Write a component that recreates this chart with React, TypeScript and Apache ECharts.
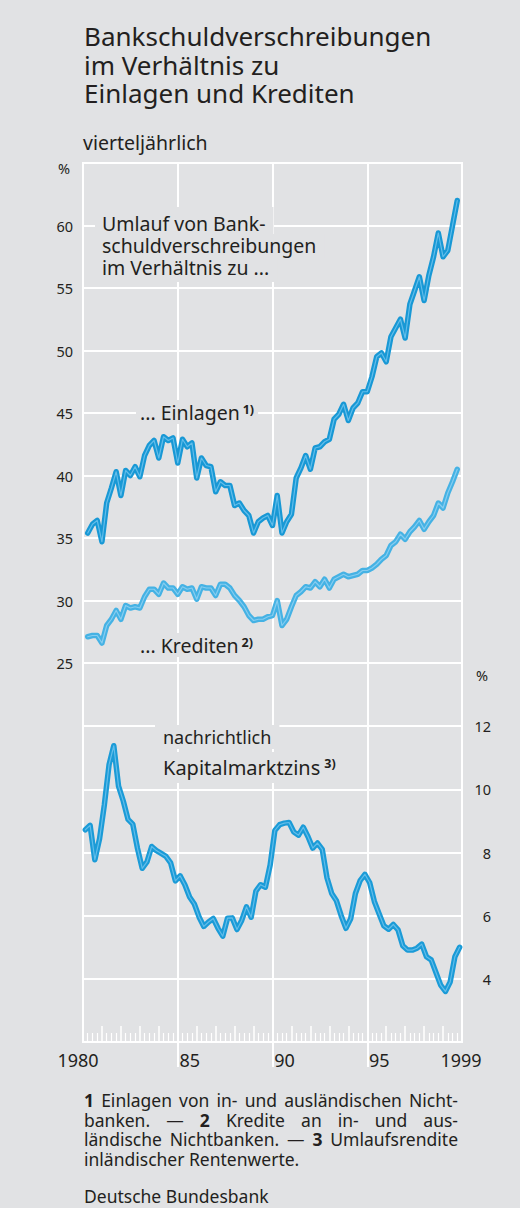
import React, { useEffect, useRef } from 'react';
import * as echarts from 'echarts';

const FONT = '"Noto Sans", "Open Sans", sans-serif';
const INK = '#231f20';
const BG = '#e1e2e4';
const GRIDC = '#ffffff';

// Tick labels
const xLabelValues = [1980, 1985, 1990, 1995, 2000];
const xLabelTexts = ['1980', '85', '90', '95', '1999'];
const xTickValues = [1985, 1990, 1995];

// Quarterly ratios 1980 Q1 .. 1999 Q3 (%)
const einlagen = [
  35.4, 36.1, 36.4, 34.7,
  37.8, 39.0, 40.3, 38.4,
  40.4, 40.0, 40.7, 39.9,
  41.6, 42.4, 42.8, 41.4,
  43.1, 42.8, 43.0, 41.0,
  42.9, 42.3, 42.6, 39.8,
  41.4, 40.8, 40.7, 38.7,
  39.5, 39.2, 39.2, 37.6,
  37.8, 37.2, 36.8, 35.4,
  36.3, 36.6, 36.8, 36.0,
  38.4, 35.4, 36.3, 36.9,
  39.8, 40.6, 41.6, 40.5,
  42.2, 42.3, 42.7, 42.9,
  44.5, 44.9, 45.7, 44.4,
  45.4, 45.8, 46.7, 46.7,
  47.9, 49.5, 49.8, 49.1,
  51.1, 51.8, 52.5, 51.0,
  53.7, 54.8, 55.9, 54.0,
  56.0, 57.5, 59.4, 57.5,
  58.0, 60.0, 62.0,
];

const kredite = [
  27.1, 27.2, 27.2, 26.6,
  28.0, 28.5, 29.2, 28.5,
  29.6, 29.4, 29.5, 29.4,
  30.3, 30.9, 30.9, 30.5,
  31.4, 31.0, 31.0, 30.5,
  31.1, 30.9, 31.0, 30.1,
  31.1, 31.0, 31.0, 30.4,
  31.3, 31.3, 31.0, 30.4,
  30.0, 29.5, 28.8, 28.4,
  28.5, 28.5, 28.7, 28.8,
  30.0, 28.0, 28.5, 29.5,
  30.4, 30.7, 31.1, 31.0,
  31.5, 31.1, 31.7, 31.0,
  31.7, 31.9, 32.1, 31.9,
  32.0, 32.1, 32.4, 32.4,
  32.6, 32.9, 33.3, 33.6,
  34.4, 34.7, 35.3, 34.9,
  35.5, 35.9, 36.4, 35.7,
  36.3, 36.8, 37.8, 37.4,
  38.6, 39.5, 40.5,
];

// Kapitalmarktzins, quarterly 1980 Q1 .. 1999 Q4 (%)
const zins = [
  8.72, 8.86, 7.77, 8.44, 9.5, 10.78, 11.38, 10.1, 9.63, 9.05,
  8.9, 8.13, 7.5, 7.7, 8.19, 8.06, 7.97, 7.88, 7.67, 7.1,
  7.26, 6.98, 6.59, 6.37, 5.96, 5.66, 5.8, 5.91, 5.6, 5.35,
  5.92, 5.93, 5.56, 5.85, 6.28, 5.95, 6.78, 6.98, 6.9, 7.6,
  8.7, 8.88, 8.93, 8.95, 8.65, 8.55, 8.8, 8.5, 8.14, 8.3,
  8.1, 7.2, 6.7, 6.47, 6.0, 5.6, 5.9, 6.7, 7.11, 7.31,
  7.05, 6.45, 6.06, 5.68, 5.57, 5.72, 5.55, 5.05, 4.91, 4.91,
  4.97, 5.1, 4.7, 4.6, 4.2, 3.8, 3.6, 3.9, 4.7, 5.0,
];

const titleLines = ['Bankschuldverschreibungen', 'im Verhältnis zu', 'Einlagen und Krediten'];
const subtitle = 'vierteljährlich';
const umlaufLines = ['Umlauf von Bank-', 'schuldverschreibungen', 'im Verhältnis zu ...'];
const footnotes = [
  '1 Einlagen von in- und ausländischen Nicht-',
  'banken. — 2 Kredite an in- und aus-',
  'ländische Nichtbanken. — 3 Umlaufsrendite',
  'inländischer Rentenwerte.',
];
const footJustify = [true, true, true, false];
const source = 'Deutsche Bundesbank';

let ctx: CanvasRenderingContext2D | null = null;
function measure(text: string, size: number, weight = 'normal') {
  if (!ctx) ctx = document.createElement('canvas').getContext('2d');
  ctx!.font = `${weight} ${size}px "Noto Sans"`;
  return ctx!.measureText(text).width;
}

function txt(text: string, x: number, y: number, size: number, extra: any = {}) {
  return {
    type: 'text',
    x,
    y,
    z: 20,
    silent: true,
    style: {
      text,
      fontSize: size,
      lineHeight: Math.round(size),
      fontFamily: FONT,
      fontWeight: extra.weight || 'normal',
      fill: INK,
      align: 'left',
      verticalAlign: 'middle',
    },
  };
}

function box(x: number, y: number, w: number, h: number) {
  return { type: 'rect', z: 15, silent: true, shape: { x, y, width: w, height: h }, style: { fill: BG } };
}

// one text per footnote line, justified with rich tokens of computed widths
function justifiedLine(line: string, x0: number, x1: number, y: number, fs: number, justify: boolean) {
  const words = line.split(' ');
  const isBold = (w: string) => /^[0-9]$/.test(w);
  const widths = words.map((w) => measure(w, fs, isBold(w) ? 'bold' : 'normal'));
  const total = widths.reduce((a, b) => a + b, 0);
  const space = measure(' ', fs);
  const gap = justify && words.length > 1 ? (x1 - x0 - total) / (words.length - 1) : space;
  const rich: any = {};
  let text = '';
  words.forEach((w, j) => {
    const key = 'w' + j;
    rich[key] = {
      fontSize: fs,
      lineHeight: Math.round(fs),
      fontFamily: FONT,
      fontWeight: isBold(w) ? 'bold' : 'normal',
      fill: INK,
      ...(j < words.length - 1 ? { width: widths[j] + gap } : {}),
    };
    text += `{${key}|${w}}`;
  });
  return {
    type: 'text',
    x: x0,
    y,
    z: 20,
    silent: true,
    style: {
      text,
      rich,
      fontSize: fs,
      lineHeight: Math.round(fs),
      fontFamily: FONT,
      fill: INK,
      align: 'left',
      verticalAlign: 'middle',
    },
  };
}

function buildGraphics() {
  const g: any[] = [];
  // Title
  const titleY = [36, 64.5, 93];
  titleLines.forEach((t, i) => g.push(txt(t, 84, titleY[i], 26)));
  g.push(txt(subtitle, 83, 142, 19.5));

  // Umlauf annotation with backgrounds per line
  const uy = [223, 245.5, 267.5];
  const ub = [[207, 236], [234, 258], [256, 282]];
  umlaufLines.forEach((t, i) => {
    const w = measure(t, 19.5);
    g.push(box(95, ub[i][0], w + 15, ub[i][1] - ub[i][0]));
    g.push(txt(t, 102, uy[i], 19.5));
  });

  // Einlagen / Krediten labels
  const addSup = (main: string, sup: string, x: number, y: number, size: number) => {
    const w = measure(main, size);
    const ws = measure(sup, 12.5, 'bold');
    g.push(box(x - 4, y - 12, w + ws + 11, 24));
    g.push(txt(main, x, y, size));
    g.push(txt(sup, x + w + 3, y - 3, 12.5, { weight: 'bold' }));
  };
  addSup('... Einlagen', '1)', 140, 412, 19.5);
  addSup('... Krediten', '2)', 140, 645, 19.5);

  // nachrichtlich Kapitalmarktzins
  const wn = measure('nachrichtlich', 18);
  g.push(box(155, 725, wn + 16, 24));
  g.push(txt('nachrichtlich', 163, 737, 18));
  const wk = measure('Kapitalmarktzins', 20);
  const wks = measure('3)', 12.5, 'bold');
  g.push(box(155, 752, wk + wks + 20, 31));
  g.push(txt('Kapitalmarktzins', 163, 767, 20));
  g.push(txt('3)', 163 + wk + 4, 763, 12.5, { weight: 'bold' }));

  // Footnotes (justified)
  const fy = [1100, 1119.5, 1139, 1158.5];
  footnotes.forEach((line, i) => g.push(justifiedLine(line, 84, 458, fy[i], 17.5, footJustify[i])));
  g.push(txt(source, 84, 1196, 17.5));
  return g;
}

export default function App() {
  const ref = useRef<HTMLDivElement>(null);
  useEffect(() => {
    document.body.style.margin = '0';
    document.body.style.background = BG;
    const chart = echarts.init(ref.current!, null, { renderer: 'svg' });

    const eData = einlagen.map((v, i) => [1980 + (i + 1) / 4, v]);
    const kData = kredite.map((v, i) => [1980 + (i + 1) / 4, v]);
    const zData = zins.map((v, i) => [1980 + (i + 0.5) / 4, v]);

    const line = (data: any, xi: number, yi: number, color: string, width: number, z: number) => ({
      type: 'line',
      xAxisIndex: xi,
      yAxisIndex: yi,
      data,
      symbol: 'none',
      silent: true,
      z,
      lineStyle: { color, width, join: 'round', cap: 'round' },
    });

    const splitLine = { show: true, lineStyle: { color: GRIDC, width: 2 } };
    const labelStyle = { fontFamily: FONT, color: INK };

    const option: any = {
      animation: false,
      backgroundColor: BG,
      textStyle: { fontFamily: FONT },
      grid: [
        { left: 83, top: 163, width: 379, height: 500, show: true, borderColor: GRIDC, borderWidth: 2, backgroundColor: 'transparent' },
        { left: 83, top: 663, width: 379, height: 379, show: true, borderColor: GRIDC, borderWidth: 2, backgroundColor: 'transparent' },
      ],
      xAxis: [
        {
          gridIndex: 0, type: 'value', min: 1980, max: 2000, interval: 5,
          axisLine: { show: false }, axisTick: { show: false }, axisLabel: { show: false }, splitLine,
        },
        {
          gridIndex: 1, type: 'value', min: 1980, max: 2000, interval: 5, position: 'bottom',
          axisLine: { show: false },
          axisTick: { show: true, customValues: xTickValues, length: 25, lineStyle: { color: GRIDC, width: 2 } },
          axisLabel: {
            show: true,
            customValues: xLabelValues,
            margin: 9,
            fontSize: 18,
            ...labelStyle,
            formatter: (v: number) => {
              const i = xLabelValues.indexOf(Math.round(v));
              if (i < 0) return '';
              const key = i === 0 ? 'a' : i === xLabelValues.length - 1 ? 'z' : 'm';
              return `{${key}|${xLabelTexts[i]}}`;
            },
            rich: {
              a: { fontSize: 18, fontFamily: FONT, color: INK, padding: [0, 10, 0, 0] },
              m: { fontSize: 18, fontFamily: FONT, color: INK, padding: [0, 0, 0, 24] },
              z: { fontSize: 18, fontFamily: FONT, color: INK, padding: [0, 2, 0, 0] },
            },
          },
          splitLine,
        },
        {
          gridIndex: 1, type: 'value', min: 1980, max: 2000, interval: 1, position: 'bottom',
          axisLine: { show: false },
          axisTick: { show: true, inside: true, length: 16, lineStyle: { color: GRIDC, width: 1.5 } },
          minorTick: { show: true, splitNumber: 4, length: 9, lineStyle: { color: GRIDC, width: 1.2 } },
          axisLabel: { show: false },
          splitLine: { show: false },
        },
      ],
      yAxis: [
        {
          gridIndex: 0, type: 'value', min: 25, max: 65, interval: 5, position: 'left',
          axisLine: { show: false }, axisTick: { show: false }, splitLine,
          axisLabel: {
            margin: 10, fontSize: 14.5, ...labelStyle,
            formatter: (v: number) => (v === 65 ? '{p|%}' : String(v)),
            rich: { p: { fontSize: 14.5, fontFamily: FONT, color: INK, padding: [10, 3, 0, 0] } },
          },
        },
        {
          gridIndex: 1, type: 'value', min: 2, max: 14, interval: 2, position: 'right',
          axisLine: { show: false }, axisTick: { show: false }, splitLine,
          axisLabel: {
            margin: 29, align: 'right', fontSize: 14.5, ...labelStyle,
            formatter: (v: number) => (v === 14 ? '{p|%}' : v === 2 ? '' : String(v)),
            rich: { p: { fontSize: 14.5, fontFamily: FONT, color: INK, padding: [24, 3, 0, 0] } },
          },
        },
      ],
      series: [
        line(kData, 0, 0, '#45b2e4', 5.5, 3),
        line(kData, 0, 0, '#86cdf0', 1.2, 4),
        line(eData, 0, 0, '#1898d5', 5.5, 5),
        line(eData, 0, 0, '#62bdea', 1.2, 6),
        line(zData, 1, 1, '#1b9bd7', 5.5, 5),
        line(zData, 1, 1, '#62bdea', 1.2, 6),
      ],
      graphic: buildGraphics(),
    };
    chart.setOption(option);
    return () => chart.dispose();
  }, []);

  return (
    <div
      ref={ref}
      style={{ position: 'absolute', left: 0, top: 0, width: 520, height: 1208, background: BG }}
    />
  );
}
